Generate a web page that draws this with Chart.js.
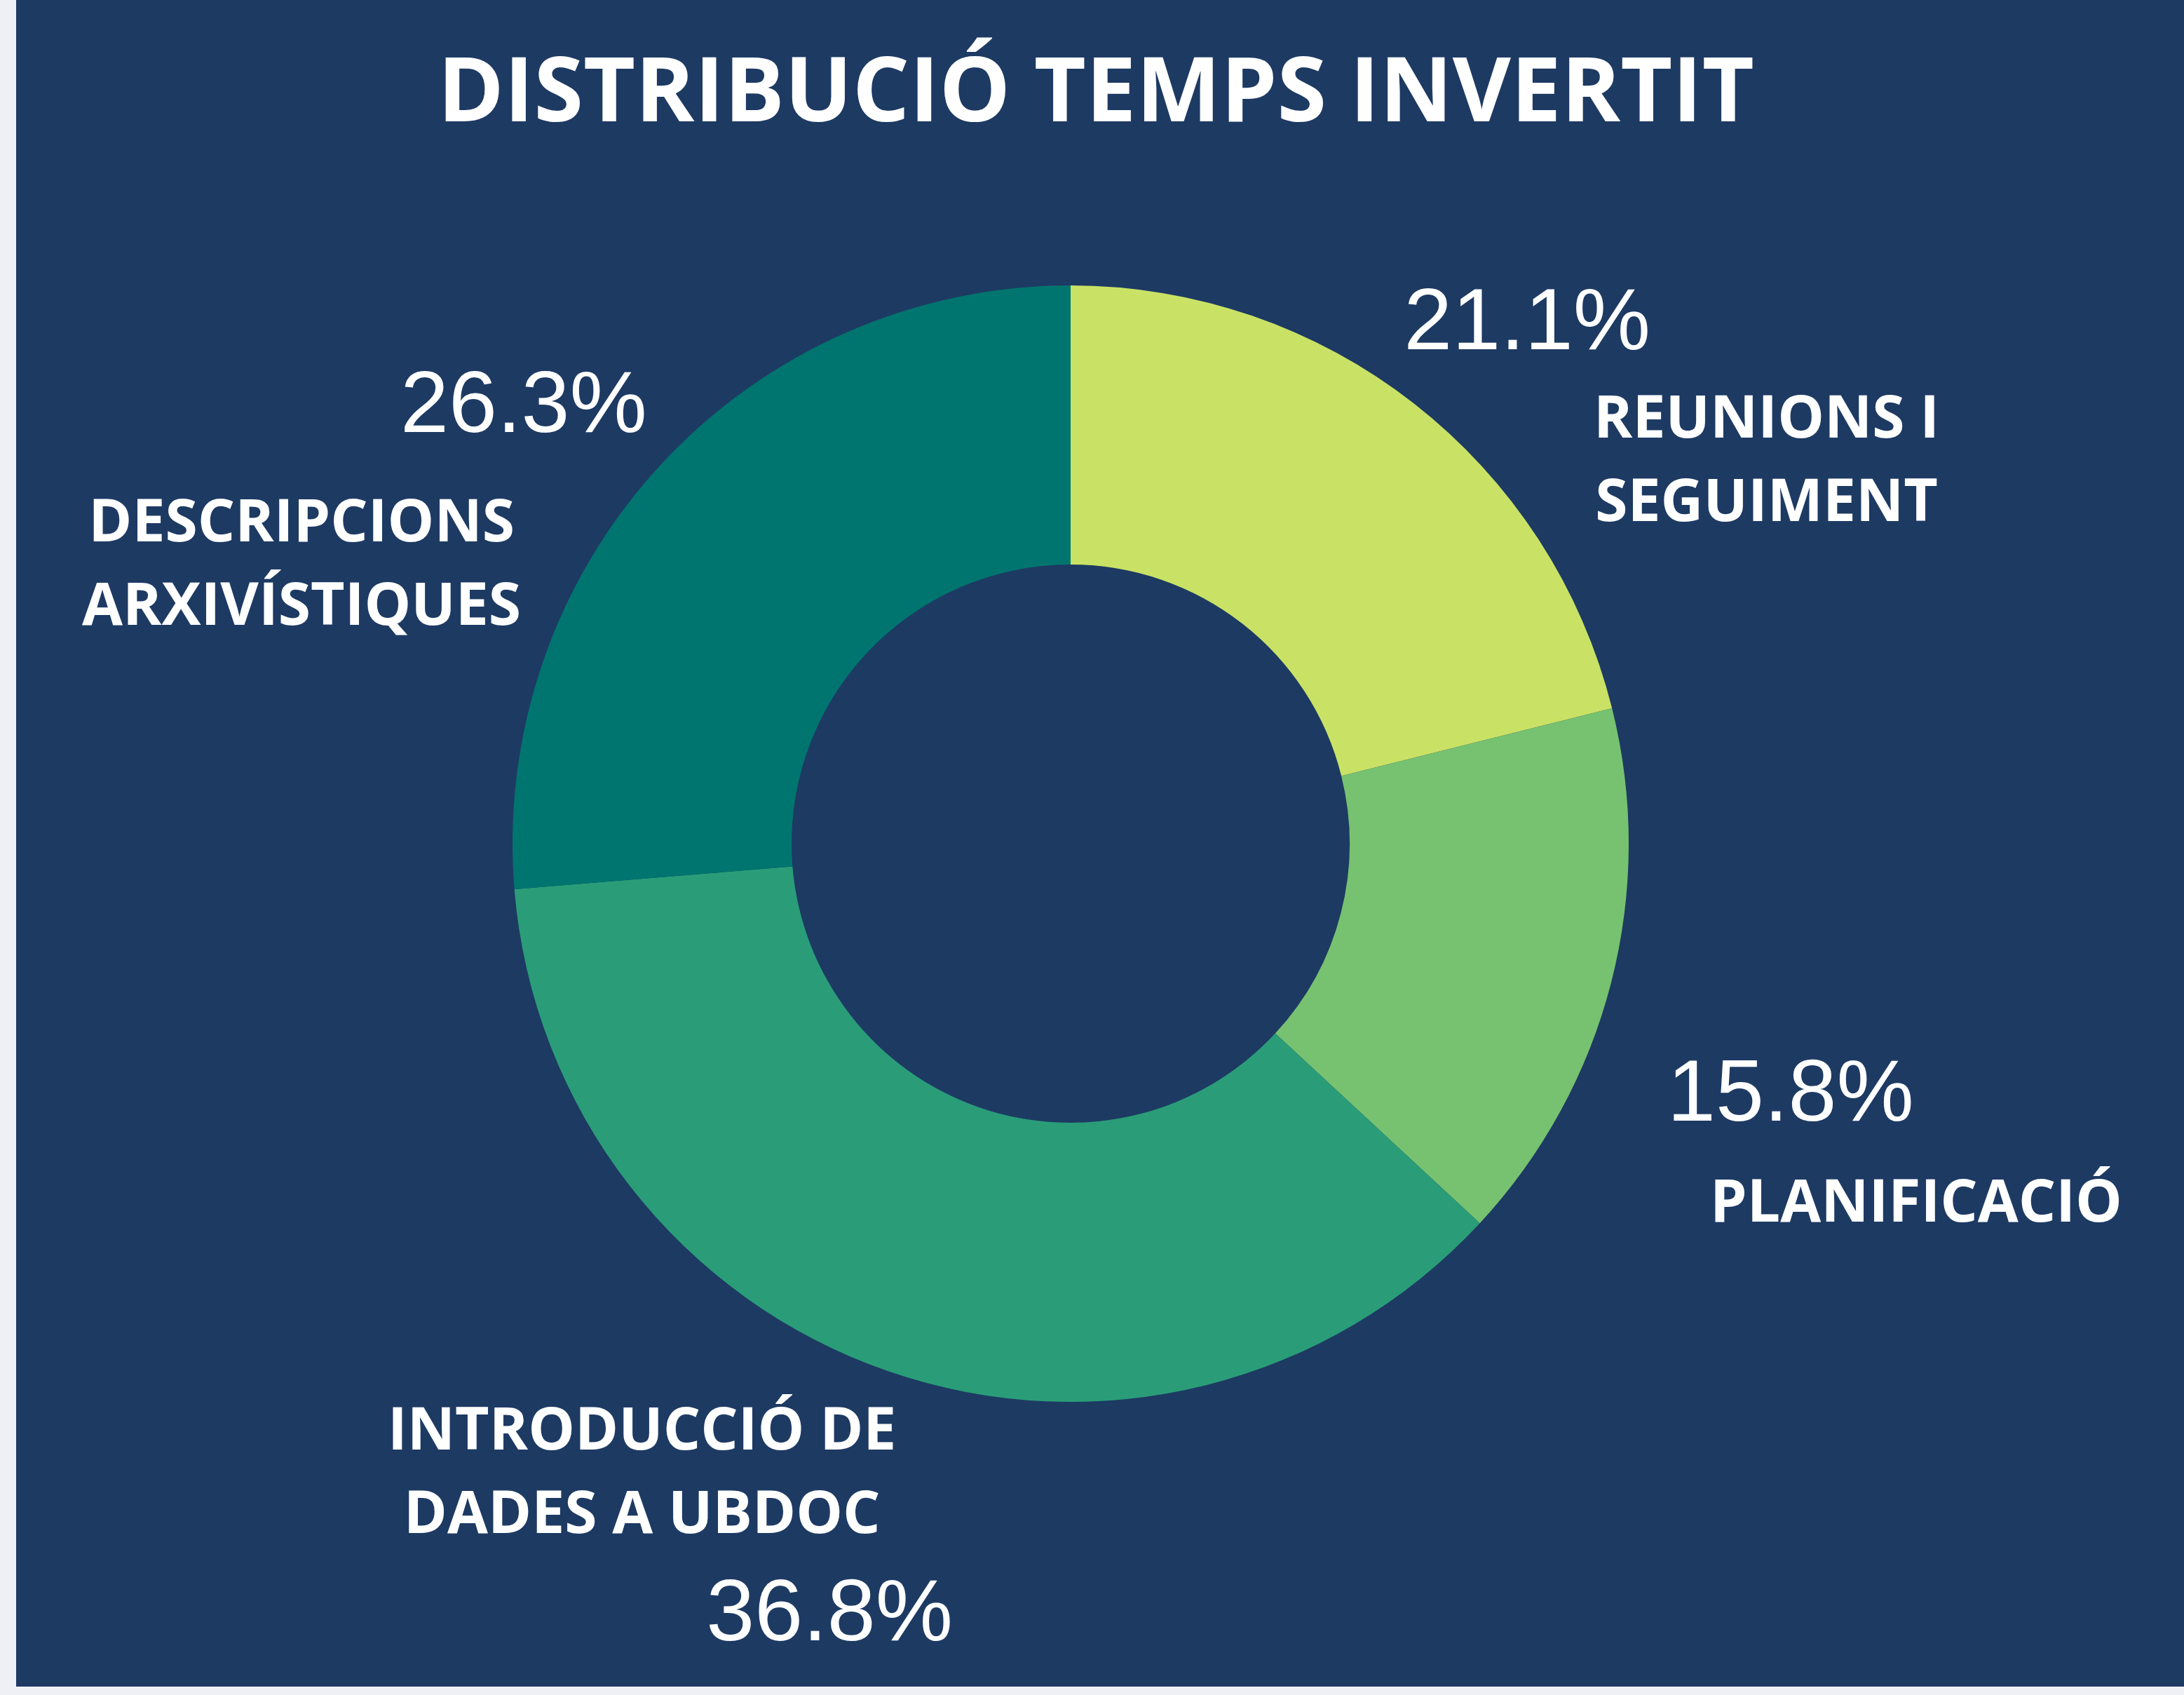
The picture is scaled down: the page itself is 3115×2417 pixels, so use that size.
<!DOCTYPE html>
<html>
<head>
<meta charset="utf-8">
<script src="https://cdn.jsdelivr.net/npm/chart.js@4"></script>
<style>
  html, body { margin: 0; padding: 0; background: #eff0f5; }
  #panel {
    position: absolute;
    left: 23px; top: 0;
    width: 3092px; height: 2405px;
    background: #1d3a63;
  }
</style>
</head>
<body>
<div id="panel"><canvas id="donut"></canvas></div>
<script>
// data
const title = "DISTRIBUCIÓ TEMPS INVERTIT";
const categories = [
  ["REUNIONS I", "SEGUIMENT"],
  ["PLANIFICACIÓ"],
  ["INTRODUCCIÓ DE", "DADES A UBDOC"],
  ["DESCRIPCIONS", "ARXIVÍSTIQUES"],
];
const shares = [21.1, 15.8, 36.8, 26.3];
const sliceColors = ["#c9e265", "#77c270", "#2a9d78", "#00756f"];

// where the texts sit, as offsets from the doughnut centre in units of the outer radius
const pctPos = [[0.818, -0.941], [1.290, 0.440], [-0.432, 1.371], [-0.980, -0.793]];
const namePos = [[1.247, -0.690], [1.515, 0.639], [-0.768, 1.123], [-1.378, -0.505]];

const labelPlugin = {
  id: "sliceLabels",
  afterDraw(chart) {
    const ctx = chart.ctx;
    const arcs = chart.getDatasetMeta(0).data;
    ctx.save();
    ctx.fillStyle = "#ffffff";
    ctx.textAlign = "center";
    ctx.textBaseline = "alphabetic";

    // title: sits a little right of the doughnut centre in the original
    ctx.font = `bold 128px "Open Sans", sans-serif`;
    ctx.fillText(title, chart.width / 2 - 6, 173);

    arcs.forEach((arc, i) => {
      const R = arc.outerRadius;
      // percentage
      const pSize = 124;
      ctx.font = `${pSize}px "Liberation Sans", Arial, sans-serif`;
      ctx.fillText(shares[i].toFixed(1) + "%",
        arc.x + pctPos[i][0] * R,
        arc.y + pctPos[i][1] * R + pSize * 0.358);
      // category name
      const nSize = 84, pitch = 119;
      ctx.font = `bold ${nSize}px "Open Sans", sans-serif`;
      const lines = categories[i];
      const top = arc.y + namePos[i][1] * R - (lines.length - 1) * pitch / 2;
      lines.forEach((ln, k) => {
        ctx.fillText(ln, arc.x + namePos[i][0] * R, top + k * pitch + nSize * 0.357);
      });
    });
    ctx.restore();
  }
};

new Chart(document.getElementById("donut"), {
  type: "doughnut",
  data: {
    labels: categories.map(c => c.join(" ")),
    datasets: [{
      data: shares,
      backgroundColor: sliceColors,
      borderWidth: 0,
    }],
  },
  options: {
    responsive: true,
    maintainAspectRatio: false,
    animation: false,
    cutout: "50%",
    layout: { padding: { left: 0, right: 84, top: 407, bottom: 406 } },
    plugins: {
      legend: { display: false },
      tooltip: { enabled: false },
      title: { display: false },
    },
  },
  plugins: [labelPlugin],
});
</script>
</body>
</html>
